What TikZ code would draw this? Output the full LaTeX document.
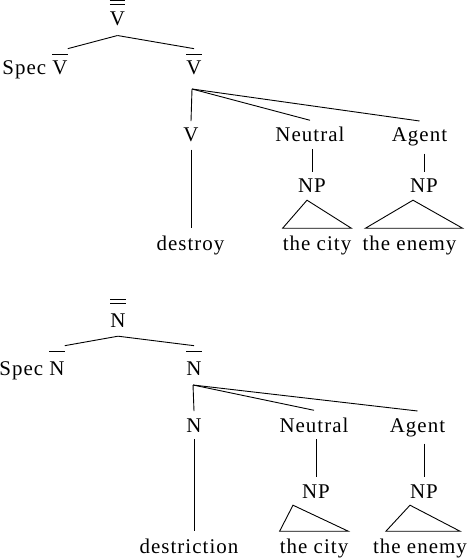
\documentclass[tikz,border=0pt]{standalone}
\usepackage{amsmath}
\usepackage{fontspec}
\setmainfont[LetterSpace=5]{Liberation Serif}
\newcommand{\barcat}[2]{$\overline{\rule{0pt}{#1}\text{#2}}$}
\newcommand{\dbarcat}[2]{$\overline{\overline{\rule{0pt}{#1}\text{#2}}}$}

\begin{document}
\begin{tikzpicture}[
  x=1bp, y=-1bp,
  cat/.style={anchor=base, inner xsep=0pt, inner ysep=7bp,
              font=\fontsize{21}{24}\selectfont},
  barred/.style={cat, inner ysep=4bp},
  root/.style={cat, inner ysep=9bp},
  branch/.style={line width=0.9bp},
]
  \useasboundingbox (0,0) rectangle (470,558);

  % verb phrase
  \node[root]   (vtop)  at (117.5,26) {\dbarcat{19bp}{V}};
  \node[barred] (specv) at (35,75)    {Spec \barcat{18bp}{V}};
  \node[barred] (vbar)  at (194,75)   {\barcat{18bp}{V}};
  \coordinate   (vfan)  at (192,89);
  \node[cat] (vhead)  at (191,142)   {V};
  \node[cat] (vneu)   at (310,142)   {Neutral};
  \node[cat] (vagt)   at (419.5,142) {Agent};
  \node[cat] (vnp1)   at (312,193)   {NP};
  \node[cat] (vnp2)   at (424,193)   {NP};
  \node[cat] (destroy) at (190.5,250) {destroy};
  \node[cat] (vcity)  at (317,250)   {the city};
  \node[cat] (venemy) at (409.5,250) {the enemy};

  \draw[branch] (vtop.south) -- (specv.north east);
  \draw[branch] (vtop.south) -- (vbar.north);
  \draw[branch] (vfan) -- (vhead.north);
  \draw[branch] (vfan) -- (vneu.north);
  \draw[branch] (vfan) -- (vagt.north);
  \draw[branch] (vhead.south) -- (vhead.south |- destroy.north);
  \draw[branch] (vneu.south -| vnp1.north) -- (vnp1.north);
  \draw[branch] (vagt.south -| vnp2.north) -- (vnp2.north);
  \draw[branch] ([xshift=-5bp]vnp1.south) -- (vcity.north west)
                -- (vcity.north east) -- cycle;
  \draw[branch] ([xshift=-11bp]vnp2.south) -- ([xshift=3bp]venemy.north west)
                -- ([xshift=6bp]venemy.north east) -- cycle;

  % noun phrase
  \node[root]   (ntop)  at (118,327)  {\dbarcat{21bp}{N}};
  \node[barred] (specn) at (32,375)   {Spec \barcat{21bp}{N}};
  \node[barred] (nbar)  at (194,375)  {\barcat{21bp}{N}};
  \coordinate   (nfan)  at (193,385);
  \node[cat] (nhead)  at (194,432)   {N};
  \node[cat] (nneu)   at (314,432)   {Neutral};
  \node[cat] (nagt)   at (417.5,432) {Agent};
  \node[cat] (nnp1)   at (316,498)   {NP};
  \node[cat] (nnp2)   at (424,498)   {NP};
  \node[cat] (destriction) at (189,553) {destriction};
  \node[cat] (ncity)  at (314,553)   {the city};
  \node[cat] (nenemy) at (420,553)   {the enemy};

  \draw[branch] (ntop.south) -- (specn.north east);
  \draw[branch] (ntop.south) -- (nbar.north);
  \draw[branch] (nfan) -- (nhead.north);
  \draw[branch] (nfan) -- (nneu.north);
  \draw[branch] (nfan) -- (nagt.north);
  \draw[branch] (nhead.south) -- (nhead.south |- destriction.north);
  \draw[branch] (nneu.south -| nnp1.north) -- (nnp1.north);
  \draw[branch] (nagt.south -| nnp2.north) -- (nnp2.north);
  \draw[branch] ([xshift=-23bp]nnp1.south) -- (ncity.north west)
                -- (ncity.north east) -- cycle;
  \draw[branch] ([xshift=-14bp]nnp2.south) -- ([xshift=13bp]nenemy.north west)
                -- ([xshift=-7bp]nenemy.north east) -- cycle;
\end{tikzpicture}
\end{document}
